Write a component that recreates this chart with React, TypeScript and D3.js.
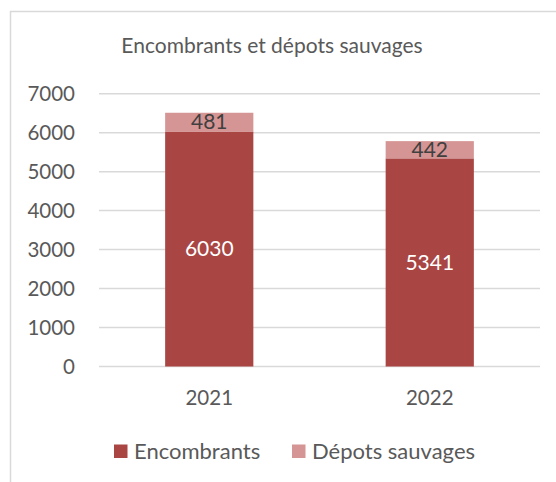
import React, { useEffect, useRef } from "react";
import * as d3 from "d3";

const years = ["2021", "2022"];
const encombrants = [6030, 5341];
const depots = [481, 442];
const yTicks = [0, 1000, 2000, 3000, 4000, 5000, 6000, 7000];
const seriesNames = ["Encombrants", "Dépots sauvages"];
const seriesColors = ["#A94644", "#D59594"];

const FONT = "Lato, 'Open Sans', sans-serif";

const App = () => {
  const ref = useRef<SVGSVGElement>(null);

  useEffect(() => {
    const svg = d3.select(ref.current);
    svg.selectAll("*").remove();

    // chart frame (runs off the right/bottom edge)
    svg
      .append("rect")
      .attr("x", 10.5)
      .attr("y", 11.5)
      .attr("width", 600)
      .attr("height", 600)
      .attr("fill", "white")
      .attr("stroke", "#D9D9D9")
      .attr("stroke-width", 1.5);

    svg
      .append("text")
      .attr("x", 272)
      .attr("y", 53)
      .attr("text-anchor", "middle")
      .attr("font-family", FONT)
      .attr("font-size", "21px")
      .attr("fill", "#595959")
      .text("Encombrants et dépots sauvages");

    const x = d3.scaleBand().domain(years).range([99, 540]).paddingInner(0.6).paddingOuter(0.3);
    const y = d3.scaleLinear().domain([0, 7000]).range([366.5, 93.7]);

    // gridlines
    svg
      .append("g")
      .selectAll("line")
      .data(yTicks)
      .enter()
      .append("line")
      .attr("x1", 99)
      .attr("x2", 540)
      .attr("y1", (d) => y(d))
      .attr("y2", (d) => y(d))
      .attr("stroke", "#D9D9D9")
      .attr("stroke-width", 1.5);

    svg
      .append("g")
      .selectAll("text")
      .data(yTicks)
      .enter()
      .append("text")
      .attr("x", 75)
      .attr("y", (d) => y(d))
      .attr("dy", "0.35em")
      .attr("text-anchor", "end")
      .attr("font-family", FONT)
      .attr("font-size", "20.5px")
      .attr("fill", "#595959")
      .text((d) => d);

    const rows = years.map((yr, i) => ({ year: yr, enc: encombrants[i], dep: depots[i] }));
    const stacked = d3.stack<any>().keys(["enc", "dep"])(rows);

    const layers = svg
      .selectAll("g.layer")
      .data(stacked)
      .enter()
      .append("g")
      .attr("class", "layer")
      .attr("fill", (_, i) => seriesColors[i]);

    layers
      .selectAll("rect")
      .data((d) => d)
      .enter()
      .append("rect")
      .attr("x", (d) => x(d.data.year) as number)
      .attr("width", x.bandwidth())
      .attr("y", (d) => y(d[1]))
      .attr("height", (d) => y(d[0]) - y(d[1]));

    // data labels
    stacked.forEach((layer, li) => {
      svg
        .append("g")
        .selectAll("text")
        .data(layer)
        .enter()
        .append("text")
        .attr("x", (d) => (x(d.data.year) as number) + x.bandwidth() / 2)
        .attr("y", (d) => (y(d[0]) + y(d[1])) / 2)
        .attr("dy", "0.35em")
        .attr("text-anchor", "middle")
        .attr("font-family", FONT)
        .attr("font-size", "21px")
        .attr("fill", li === 0 ? "white" : "#404040")
        .text((d) => d[1] - d[0]);
    });

    // x axis labels
    svg
      .append("g")
      .selectAll("text")
      .data(years)
      .enter()
      .append("text")
      .attr("x", (d) => (x(d) as number) + x.bandwidth() / 2)
      .attr("y", 398)
      .attr("dy", "0.35em")
      .attr("text-anchor", "middle")
      .attr("font-family", FONT)
      .attr("font-size", "20.5px")
      .attr("fill", "#595959")
      .text((d) => d);

    // legend
    const legendX = [114, 292];
    const legend = svg
      .append("g")
      .selectAll("g")
      .data(seriesNames)
      .enter()
      .append("g")
      .attr("transform", (_, i) => `translate(${legendX[i]}, 451)`);
    legend
      .append("rect")
      .attr("x", 0)
      .attr("y", -6.5)
      .attr("width", 13.5)
      .attr("height", 13.5)
      .attr("fill", (_, i) => seriesColors[i]);
    legend
      .append("text")
      .attr("x", 20)
      .attr("y", 0)
      .attr("dy", "0.35em")
      .attr("font-family", FONT)
      .attr("font-size", "22px")
      .attr("fill", "#595959")
      .text((d) => d);
  }, []);

  return (
    <svg
      ref={ref}
      width={556}
      height={482}
      style={{ position: "absolute", left: 0, top: 0, background: "white" }}
    />
  );
};

export default App;
